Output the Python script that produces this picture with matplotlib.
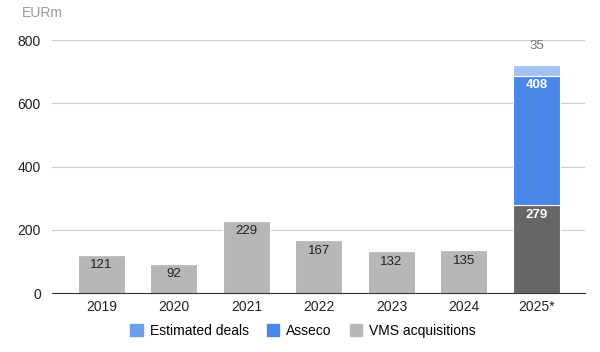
import numpy as np
import matplotlib
matplotlib.use("Agg")
from matplotlib import pyplot as plt
from matplotlib.patches import Patch

years = ["2019", "2020", "2021", "2022", "2023", "2024", "2025*"]
vms = [121, 92, 229, 167, 132, 135, 279]
asseco = [0, 0, 0, 0, 0, 0, 408]
estimated = [0, 0, 0, 0, 0, 0, 35]

plt.rcParams["font.family"] = ["Liberation Sans", "DejaVu Sans"]

fig = plt.figure(figsize=(6.0, 3.52), dpi=100)
ax = fig.add_axes([0.0867, 0.1676, 0.8883, 0.7187])

x = np.arange(len(years))
w = 0.65
vms_colors = ["#b7b7b7"] * (len(years) - 1) + ["#666666"]

ax.bar(x, vms, w, color=vms_colors, edgecolor="white", linewidth=0.8, zorder=3)
b_asseco = np.array(vms)
ax.bar(x, asseco, w, bottom=b_asseco, color="#4a86e8", edgecolor="white", linewidth=0.8, zorder=3)
b_est = b_asseco + np.array(asseco)
ax.bar(x, estimated, w, bottom=b_est, color="#a4c2f4", edgecolor="white", linewidth=0.8, zorder=3)

for i, v in enumerate(vms):
    last = i == len(years) - 1
    ax.annotate(str(v), (x[i], v), xytext=(0, -7.5), textcoords="offset points",
                ha="center", va="center", fontsize=9.5,
                color="white" if last else "#222222",
                fontweight="bold" if last else "normal")
for i, v in enumerate(asseco):
    if v:
        ax.annotate(str(v), (x[i], b_asseco[i] + v), xytext=(0, -6.5), textcoords="offset points",
                    ha="center", va="center", fontsize=9.5, color="white", fontweight="bold")
for i, v in enumerate(estimated):
    if v:
        ax.annotate(str(v), (x[i], b_est[i] + v), xytext=(0, 13.5), textcoords="offset points",
                    ha="center", va="center", fontsize=9.5, color="#757575", annotation_clip=False)

ax.set_xlim(-0.68, 6.67)
ax.set_ylim(0, 800)
ax.set_yticks([0, 200, 400, 600, 800])
ax.set_xticks(x)
ax.set_xticklabels(years)
ax.grid(axis="y", color="#cccccc", linewidth=0.8, zorder=0)
for s in ["top", "right", "left"]:
    ax.spines[s].set_visible(False)
ax.spines["bottom"].set_color("#333333")
ax.spines["bottom"].set_zorder(4)
ax.tick_params(axis="both", length=0, labelsize=10, colors="#222222")
ax.tick_params(axis="y", pad=8)
ax.tick_params(axis="x", pad=5)

fig.text(0.037, 0.962, "EURm", fontsize=10, color="#999999", ha="left", va="center")

handles = [Patch(color="#6d9eeb", label="Estimated deals"),
           Patch(color="#4a86e8", label="Asseco"),
           Patch(color="#b7b7b7", label="VMS acquisitions")]
fig.legend(handles=handles, loc="center", bbox_to_anchor=(0.505, 0.06), ncol=3,
           frameon=False, fontsize=10, handlelength=0.9, handleheight=0.9,
           handletextpad=0.5, columnspacing=1.3)

fig.savefig("out.png", dpi=100)
